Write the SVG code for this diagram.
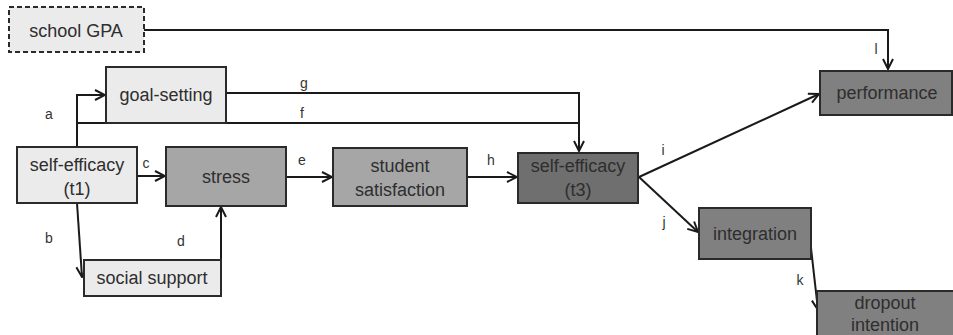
<svg xmlns="http://www.w3.org/2000/svg" width="953" height="335" viewBox="0 0 953 335">
<style>
.box{stroke:#2a2a2a;stroke-width:2}
.light{fill:#ebebeb}
.mid{fill:#a6a6a6}
.dark{fill:#6f6f6f}
.med{fill:#808080}
.t{font-family:"Liberation Sans",Arial,sans-serif;font-size:18px;fill:#2e2e2e;text-anchor:middle}
.lbl{font-family:"Liberation Sans",Arial,sans-serif;font-size:14px;fill:#333;text-anchor:middle}
.c{fill:none;stroke:#1a1a1a;stroke-width:2}
</style>
<defs>
<marker id="ar" viewBox="0 0 12 12" refX="11" refY="6" markerWidth="12" markerHeight="12" markerUnits="userSpaceOnUse" orient="auto">
<path d="M1,1 L11,6 L1,11" fill="none" stroke="#1a1a1a" stroke-width="2"/>
</marker>
</defs>
<rect width="953" height="335" fill="#fff"/>
<g id="connectors">
<polyline class="c" points="144,30 888,30 888,69" marker-end="url(#ar)"/>
<polyline class="c" points="77,147 77,95 105,95" marker-end="url(#ar)"/>
<polyline class="c" points="77,123 579,123 579,151" marker-end="url(#ar)"/>
<polyline class="c" points="226,93 579,93 579,123"/>
<line class="c" x1="137" y1="176" x2="165" y2="176" marker-end="url(#ar)"/>
<line class="c" x1="77" y1="203" x2="82" y2="277" marker-end="url(#ar)"/>
<line class="c" x1="221" y1="260" x2="221" y2="207" marker-end="url(#ar)"/>
<line class="c" x1="286" y1="177" x2="332" y2="177" marker-end="url(#ar)"/>
<line class="c" x1="467" y1="177" x2="517" y2="177" marker-end="url(#ar)"/>
<line class="c" x1="639" y1="177" x2="819" y2="94" marker-end="url(#ar)"/>
<line class="c" x1="639" y1="177" x2="698" y2="232" marker-end="url(#ar)"/>
<line class="c" x1="811" y1="248" x2="818" y2="310" marker-end="url(#ar)"/>
<text class="lbl" x="49" y="119">a</text>
<text class="lbl" x="49" y="243">b</text>
<text class="lbl" x="146" y="168">c</text>
<text class="lbl" x="181" y="246">d</text>
<text class="lbl" x="302" y="165">e</text>
<text class="lbl" x="302" y="118">f</text>
<text class="lbl" x="304" y="88">g</text>
<text class="lbl" x="491" y="165">h</text>
<text class="lbl" x="663" y="155">i</text>
<text class="lbl" x="664" y="227">j</text>
<text class="lbl" x="800" y="285">k</text>
<text class="lbl" x="876" y="54">l</text>
</g>
<g id="school-gpa">
<rect x="9" y="7" width="135" height="45" fill="#ebebeb" stroke="#2a2a2a" stroke-width="2" stroke-dasharray="5,3"/>
<text class="t" x="76" y="37">school GPA</text>
</g>
<g id="goal-setting">
<rect class="box light" x="106" y="67" width="120" height="56"/>
<text class="t" x="166" y="101">goal-setting</text>
</g>
<g id="self-efficacy-t1">
<rect class="box light" x="17" y="147" width="120" height="56"/>
<text class="t" x="77" y="171">self-efficacy</text>
<text class="t" x="77" y="195">(t1)</text>
</g>
<g id="stress">
<rect class="box mid" x="166" y="147" width="120" height="59"/>
<text class="t" x="226" y="183">stress</text>
</g>
<g id="social-support">
<rect class="box light" x="84" y="260" width="137" height="36"/>
<text class="t" x="152" y="284">social support</text>
</g>
<g id="student-satisfaction">
<rect class="box mid" x="333" y="148" width="134" height="58"/>
<text class="t" x="400" y="172">student</text>
<text class="t" x="400" y="196">satisfaction</text>
</g>
<g id="self-efficacy-t3">
<rect class="box dark" x="518" y="153" width="120" height="50"/>
<text class="t" x="578" y="172">self-efficacy</text>
<text class="t" x="578" y="196">(t3)</text>
</g>
<g id="performance">
<rect class="box med" x="820" y="71" width="132" height="44"/>
<text class="t" x="887" y="99">performance</text>
</g>
<g id="integration">
<rect class="box med" x="699" y="208" width="112" height="51"/>
<text class="t" x="755" y="240">integration</text>
</g>
<g id="dropout-intention">
<rect class="box med" x="817" y="291" width="140" height="50"/>
<text class="t" x="885" y="309">dropout</text>
<text class="t" x="885" y="331">intention</text>
</g>
</svg>
